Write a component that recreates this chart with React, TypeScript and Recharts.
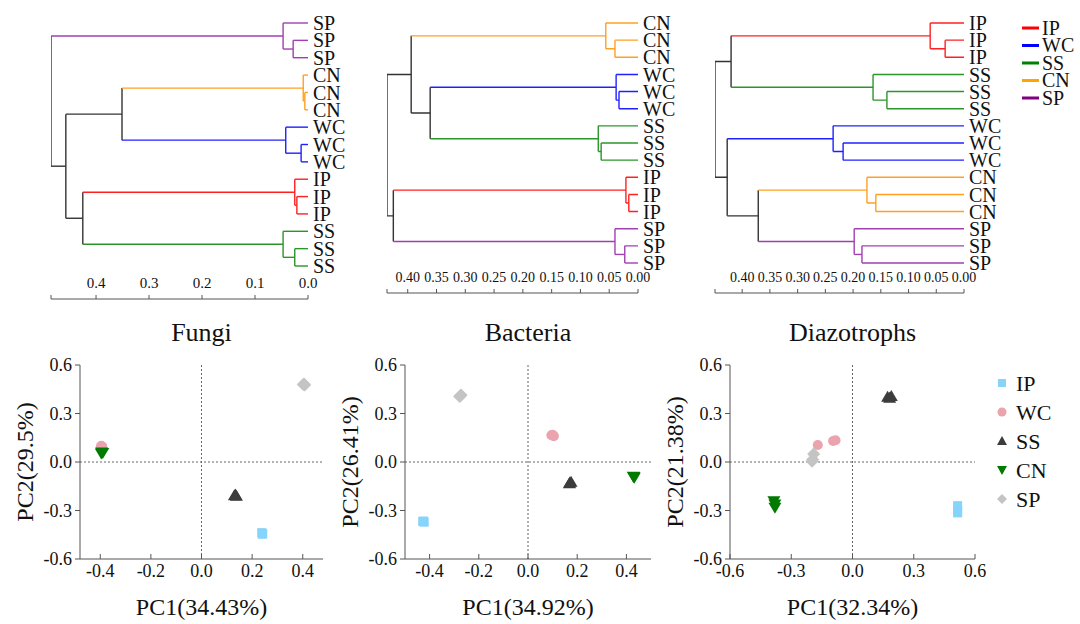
import React from 'react';
import { ComposedChart, Line, XAxis, YAxis, ScatterChart, Scatter, ReferenceLine } from 'recharts';

const FONT = '"Liberation Serif", "Times New Roman", Times, serif';
const AXIS = '#555';

// ---------- groups ----------
const groupNames = ['IP', 'WC', 'SS', 'CN', 'SP'];
const treeColors = ['#ff2020', '#2020ff', '#2a962a', '#ffa020', '#a040b0'];
const legendLineColors = ['#ff0000', '#0000ff', '#008000', '#ffa500', '#800080'];
const pointColors = ['#86d3fb', '#eba3ad', '#3c3c3c', '#007a00', '#c4c4c4'];

// ---------- dendrograms (leaf order top→bottom, merges [a, b, height]) ----------
const fungiLeaves = ['SP', 'SP', 'SP', 'CN', 'CN', 'CN', 'WC', 'WC', 'WC', 'IP', 'IP', 'IP', 'SS', 'SS', 'SS'];
const fungiMerges: [number, number, number][] = [
  [1, 2, 0.028], [0, 15, 0.047], [4, 5, 0.006], [3, 17, 0.009], [7, 8, 0.013], [6, 19, 0.042],
  [10, 11, 0.021], [9, 21, 0.025], [13, 14, 0.025], [12, 23, 0.047],
  [18, 20, 0.351], [22, 24, 0.425], [25, 26, 0.457], [16, 27, 0.485],
];
const fungiTreeTicks = [0.4, 0.3, 0.2, 0.1, 0.0];

const bacteriaLeaves = ['CN', 'CN', 'CN', 'WC', 'WC', 'WC', 'SS', 'SS', 'SS', 'IP', 'IP', 'IP', 'SP', 'SP', 'SP'];
const bacteriaMerges: [number, number, number][] = [
  [1, 2, 0.040], [0, 15, 0.056], [4, 5, 0.033], [3, 17, 0.038], [7, 8, 0.064], [6, 19, 0.069],
  [10, 11, 0.016], [9, 21, 0.021], [13, 14, 0.023], [12, 23, 0.040],
  [18, 20, 0.361], [16, 25, 0.394], [22, 24, 0.425], [26, 27, 0.436],
];
const bacteriaTreeTicks = [0.40, 0.35, 0.30, 0.25, 0.20, 0.15, 0.10, 0.05, 0.00];

const diazoLeaves = ['IP', 'IP', 'IP', 'SS', 'SS', 'SS', 'WC', 'WC', 'WC', 'CN', 'CN', 'CN', 'SP', 'SP', 'SP'];
const diazoMerges: [number, number, number][] = [
  [1, 2, 0.034], [0, 15, 0.061], [4, 5, 0.139], [3, 17, 0.164], [7, 8, 0.218], [6, 19, 0.236],
  [10, 11, 0.159], [9, 21, 0.175], [13, 14, 0.184], [12, 23, 0.198],
  [16, 18, 0.420], [22, 24, 0.371], [20, 26, 0.427], [25, 27, 0.449],
];
const diazoTreeTicks = [0.40, 0.35, 0.30, 0.25, 0.20, 0.15, 0.10, 0.05, 0.00];

// ---------- PCA points ----------
type P = [number, number];
const fungiIP: P[] = [[0.238, -0.437], [0.242, -0.443], [0.240, -0.447]];
const fungiWC: P[] = [[-0.396, 0.100], [-0.392, 0.095], [-0.398, 0.092]];
const fungiSS: P[] = [[0.130, -0.208], [0.138, -0.212], [0.134, -0.204]];
const fungiCN: P[] = [[-0.394, 0.062], [-0.390, 0.058], [-0.396, 0.055]];
const fungiSP: P[] = [[0.402, 0.480], [0.408, 0.476], [0.405, 0.483]];

const bacteriaIP: P[] = [[-0.425, -0.365], [-0.422, -0.372], [-0.428, -0.368]];
const bacteriaWC: P[] = [[0.095, 0.165], [0.105, 0.160], [0.100, 0.168]];
const bacteriaSS: P[] = [[0.170, -0.130], [0.175, -0.125], [0.168, -0.135]];
const bacteriaCN: P[] = [[0.430, -0.090], [0.432, -0.095], [0.428, -0.088]];
const bacteriaSP: P[] = [[-0.275, 0.410], [-0.272, 0.415], [-0.278, 0.405]];

const diazoIP: P[] = [[0.515, -0.270], [0.515, -0.300], [0.515, -0.315]];
const diazoWC: P[] = [[-0.170, 0.105], [-0.095, 0.130], [-0.083, 0.135]];
const diazoSS: P[] = [[0.172, 0.400], [0.190, 0.405], [0.182, 0.395]];
const diazoCN: P[] = [[-0.385, -0.240], [-0.380, -0.260], [-0.380, -0.280]];
const diazoSP: P[] = [[-0.190, 0.050], [-0.198, 0.005], [-0.195, 0.015]];

const pcaYTicks = [-0.6, -0.3, 0, 0.3, 0.6];
const fungiXTicks = [-0.4, -0.2, 0, 0.2, 0.4];
const bacteriaXTicks = [-0.4, -0.2, 0, 0.2, 0.4];
const diazoXTicks = [-0.6, -0.3, 0, 0.3, 0.6];

// ---------- helpers ----------
const colorOfGroup = (g: string) => treeColors[groupNames.indexOf(g)];

function buildSegments(leaves: string[], merges: [number, number, number][]) {
  const n = leaves.length;
  const pos: number[] = leaves.map((_, i) => i);
  const height: number[] = leaves.map(() => 0);
  const groups: string[][] = leaves.map((l) => [l]);
  merges.forEach(([a, b, h]) => {
    pos.push((pos[a] + pos[b]) / 2);
    height.push(h);
    groups.push(Array.from(new Set([...groups[a], ...groups[b]])));
  });
  const col = (id: number) => (groups[id].length === 1 ? colorOfGroup(groups[id][0]) : '#333333');
  const segs: { color: string; data: { x: number; y: number }[] }[] = [];
  merges.forEach(([a, b, h], k) => {
    const id = n + k;
    segs.push({ color: col(id), data: [{ x: h, y: pos[a] }, { x: h, y: pos[b] }] });
    segs.push({ color: col(a), data: [{ x: height[a], y: pos[a] }, { x: h, y: pos[a] }] });
    segs.push({ color: col(b), data: [{ x: height[b], y: pos[b] }, { x: h, y: pos[b] }] });
  });
  return segs;
}

type DendroProps = {
  leaves: string[];
  merges: [number, number, number][];
  ticks: number[];
  decimals: number;
  tickFont: number;
  plotLeft: number;
  plotRight: number;
  axisY: number;
  leafFirst: number;
  leafLast: number;
};

function Dendrogram(p: DendroProps) {
  const segs = buildSegments(p.leaves, p.merges);
  const root = p.merges[p.merges.length - 1][2];
  const ML = 6;
  const YW = 50;
  const XH = 24;
  const spacing = (p.leafLast - p.leafFirst) / (p.leaves.length - 1);
  const d0 = -0.8;
  const d1 = p.leaves.length - 1 + (p.axisY - p.leafLast) / spacing;
  const topPx = p.leafFirst + d0 * spacing;
  const plotW = p.plotRight - p.plotLeft;
  const renderTick = (t: any) => {
    const v = t.payload.value;
    const isRoot = Math.abs(v - root) < 1e-9;
    return (
      <g>
        <line x1={t.x} x2={t.x} y1={t.y} y2={t.y - 4} stroke={AXIS} strokeWidth={1} />
        {!isRoot && (
          <text x={t.x} y={t.y - 11} textAnchor="middle" fontSize={p.tickFont} fontFamily={FONT} style={{ fontFamily: FONT }} fill="#111">
            {v.toFixed(p.decimals)}
          </text>
        )}
      </g>
    );
  };
  return (
    <div style={{ position: 'absolute', left: p.plotLeft - ML, top: 0 }}>
      <ComposedChart
        width={ML + plotW + YW}
        height={p.axisY + XH}
        margin={{ top: topPx, right: 0, left: ML, bottom: 0 }}
      >
        <XAxis
          type="number"
          dataKey="x"
          domain={[0, root]}
          reversed
          ticks={[root, ...p.ticks]}
          interval={0}
          tickSize={0}
          tickMargin={0}
          tickLine={false}
          axisLine={{ stroke: AXIS }}
          tick={renderTick}
          height={XH}
          allowDataOverflow
        />
        <YAxis
          type="number"
          dataKey="y"
          orientation="right"
          domain={[d0, d1]}
          reversed
          ticks={p.leaves.map((_, i) => i)}
          interval={0}
          tickFormatter={(v: number) => p.leaves[v] ?? ''}
          axisLine={false}
          tickLine={false}
          tickSize={0}
          tickMargin={5}
          width={YW}
          tick={{ fontSize: 20, fill: '#111', fontFamily: FONT }}
          allowDataOverflow
        />
        {segs.map((s, i) => (
          <Line
            key={i}
            data={s.data}
            dataKey="y"
            type="linear"
            stroke={s.color}
            strokeWidth={1.4}
            dot={false}
            activeDot={false}
            isAnimationActive={false}
          />
        ))}
      </ComposedChart>
    </div>
  );
}

// ---------- scatter shapes ----------
const shapeOf = (g: string, color: string) => (sp: any) => {
  const { cx, cy } = sp;
  if (cx == null || cy == null) return <g />;
  switch (g) {
    case 'IP':
      return <rect x={cx - 4.5} y={cy - 4.5} width={9} height={9} fill={color} />;
    case 'WC':
      return <circle cx={cx} cy={cy} r={5} fill={color} />;
    case 'SS':
      return <path d={`M${cx},${cy - 6.5} L${cx + 6.5},${cy + 4.5} L${cx - 6.5},${cy + 4.5} Z`} fill={color} />;
    case 'CN':
      return <path d={`M${cx - 6.5},${cy - 4.5} L${cx + 6.5},${cy - 4.5} L${cx},${cy + 6.5} Z`} fill={color} />;
    default:
      return <path d={`M${cx},${cy - 6.5} L${cx + 6.5},${cy} L${cx},${cy + 6.5} L${cx - 6.5},${cy} Z`} fill={color} />;
  }
};

const legendShape = (g: string, color: string, cx: number, cy: number) => {
  switch (g) {
    case 'IP':
      return <rect x={cx - 4} y={cy - 4} width={8} height={8} fill={color} />;
    case 'WC':
      return <circle cx={cx} cy={cy} r={4.5} fill={color} />;
    case 'SS':
      return <path d={`M${cx},${cy - 5} L${cx + 5},${cy + 4} L${cx - 5},${cy + 4} Z`} fill={color} />;
    case 'CN':
      return <path d={`M${cx - 5},${cy - 4} L${cx + 5},${cy - 4} L${cx},${cy + 5} Z`} fill={color} />;
    default:
      return <path d={`M${cx},${cy - 5} L${cx + 5},${cy} L${cx},${cy + 5} L${cx - 5},${cy} Z`} fill={color} />;
  }
};

type PcaProps = {
  title: string;
  xLabel: string;
  yLabel: string;
  plotLeft: number;
  plotRight: number;
  xDomain: [number, number];
  xTicks: number[];
  series: P[][];
};

function Pca(p: PcaProps) {
  const YW = 80;
  const RM = 22;
  const top = 355;
  const H = 268;
  const XH = 64;
  const plotW = p.plotRight - p.plotLeft;
  const fmt = (v: number) => (Math.abs(v) < 1e-9 ? '0.0' : v.toFixed(1));
  const renderXTick = (t: any) => (
    <g>
      <line x1={t.x} x2={t.x} y1={t.y} y2={t.y - 5} stroke={AXIS} />
      <text x={t.x} y={t.y + 18} textAnchor="middle" fontSize={18} fontFamily={FONT} style={{ fontFamily: FONT }} fill="#111">
        {fmt(t.payload.value)}
      </text>
    </g>
  );
  return (
    <>
      <div
        style={{
          position: 'absolute',
          left: p.plotLeft,
          width: plotW,
          top: 318,
          textAlign: 'center',
          fontFamily: FONT,
          fontSize: 26,
          lineHeight: '30px',
          color: '#111',
        }}
      >
        {p.title}
      </div>
      <div style={{ position: 'absolute', left: p.plotLeft - YW, top }}>
        <ScatterChart width={YW + plotW + RM} height={H} margin={{ top: 10, right: RM, left: 0, bottom: 0 }}>
          <XAxis
            type="number"
            dataKey="x"
            domain={p.xDomain}
            ticks={p.xTicks}
            interval={0}
            tickSize={0}
            tickMargin={0}
            tickLine={false}
            axisLine={{ stroke: AXIS }}
            tick={renderXTick}
            height={XH}
            allowDataOverflow
            label={{
              value: p.xLabel,
              position: 'insideBottom',
              offset: 8,
              style: { fontSize: 24, fontFamily: FONT, fill: '#111' },
            }}
          />
          <YAxis
            type="number"
            dataKey="y"
            domain={[-0.6, 0.6]}
            ticks={pcaYTicks}
            interval={0}
            tickFormatter={fmt}
            axisLine={{ stroke: AXIS }}
            tickLine={{ stroke: AXIS }}
            tickSize={5}
            tickMargin={3}
            width={YW}
            tick={{ fontSize: 18, fill: '#111', fontFamily: FONT }}
            allowDataOverflow
            label={{
              value: p.yLabel,
              angle: -90,
              position: 'insideLeft',
              offset: 24,
              style: { fontSize: 24, fontFamily: FONT, fill: '#111', textAnchor: 'middle' },
            }}
          />
          <XAxis xAxisId="top" orientation="top" type="number" domain={p.xDomain} tick={false} tickLine={false} axisLine={{ stroke: AXIS }} height={0} />
          <YAxis yAxisId="right" orientation="right" type="number" domain={[-0.6, 0.6]} tick={false} tickLine={false} axisLine={{ stroke: AXIS }} width={0} />
          <ReferenceLine x={0} stroke="#666" strokeDasharray="2 2" />
          <ReferenceLine y={0} stroke="#666" strokeDasharray="2 2" />
          {groupNames.map((g, i) => (
            <Scatter
              key={g}
              name={g}
              data={p.series[i].map(([x, y]) => ({ x, y }))}
              fill={pointColors[i]}
              shape={shapeOf(g, pointColors[i])}
              isAnimationActive={false}
            />
          ))}
        </ScatterChart>
      </div>
    </>
  );
}

export default function App() {
  return (
    <div style={{ position: 'absolute', left: 0, top: 0, width: 1080, height: 624, background: '#fff', overflow: 'hidden', fontFamily: FONT }}>
      <Dendrogram leaves={fungiLeaves} merges={fungiMerges} ticks={fungiTreeTicks} decimals={1} tickFont={15}
        plotLeft={51} plotRight={308} axisY={299} leafFirst={23} leafLast={266} />
      <Dendrogram leaves={bacteriaLeaves} merges={bacteriaMerges} ticks={bacteriaTreeTicks} decimals={2} tickFont={14}
        plotLeft={387} plotRight={638} axisY={293} leafFirst={23} leafLast={263} />
      <Dendrogram leaves={diazoLeaves} merges={diazoMerges} ticks={diazoTreeTicks} decimals={2} tickFont={14}
        plotLeft={715} plotRight={964} axisY={293} leafFirst={23} leafLast={263} />

      {/* dendrogram legend */}
      <svg style={{ position: 'absolute', left: 1015, top: 14 }} width={65} height={100}>
        {groupNames.map((g, i) => (
          <g key={g}>
            <line x1={7} x2={24} y1={14 + i * 17.5} y2={14 + i * 17.5} stroke={legendLineColors[i]} strokeWidth={3} />
            <text x={27} y={14 + i * 17.5 + 6.5} fontSize={20} fontFamily={FONT} style={{ fontFamily: FONT }} fill="#111">{g}</text>
          </g>
        ))}
      </svg>

      <Pca title="Fungi" xLabel="PC1(34.43%)" yLabel="PC2(29.5%)" plotLeft={80} plotRight={323}
        xDomain={[-0.48, 0.48]} xTicks={fungiXTicks} series={[fungiIP, fungiWC, fungiSS, fungiCN, fungiSP]} />
      <Pca title="Bacteria" xLabel="PC1(34.92%)" yLabel="PC2(26.41%)" plotLeft={405} plotRight={651}
        xDomain={[-0.5, 0.5]} xTicks={bacteriaXTicks} series={[bacteriaIP, bacteriaWC, bacteriaSS, bacteriaCN, bacteriaSP]} />
      <Pca title="Diazotrophs" xLabel="PC1(32.34%)" yLabel="PC2(21.38%)" plotLeft={730} plotRight={975}
        xDomain={[-0.6, 0.6]} xTicks={diazoXTicks} series={[diazoIP, diazoWC, diazoSS, diazoCN, diazoSP]} />

      {/* PCA legend */}
      <svg style={{ position: 'absolute', left: 990, top: 365 }} width={90} height={150}>
        {groupNames.map((g, i) => (
          <g key={g}>
            {legendShape(g, pointColors[i], 12, 18 + i * 29)}
            <text x={26} y={18 + i * 29 + 8} fontSize={22} fontFamily={FONT} style={{ fontFamily: FONT }} fill="#111">{g}</text>
          </g>
        ))}
      </svg>
    </div>
  );
}
